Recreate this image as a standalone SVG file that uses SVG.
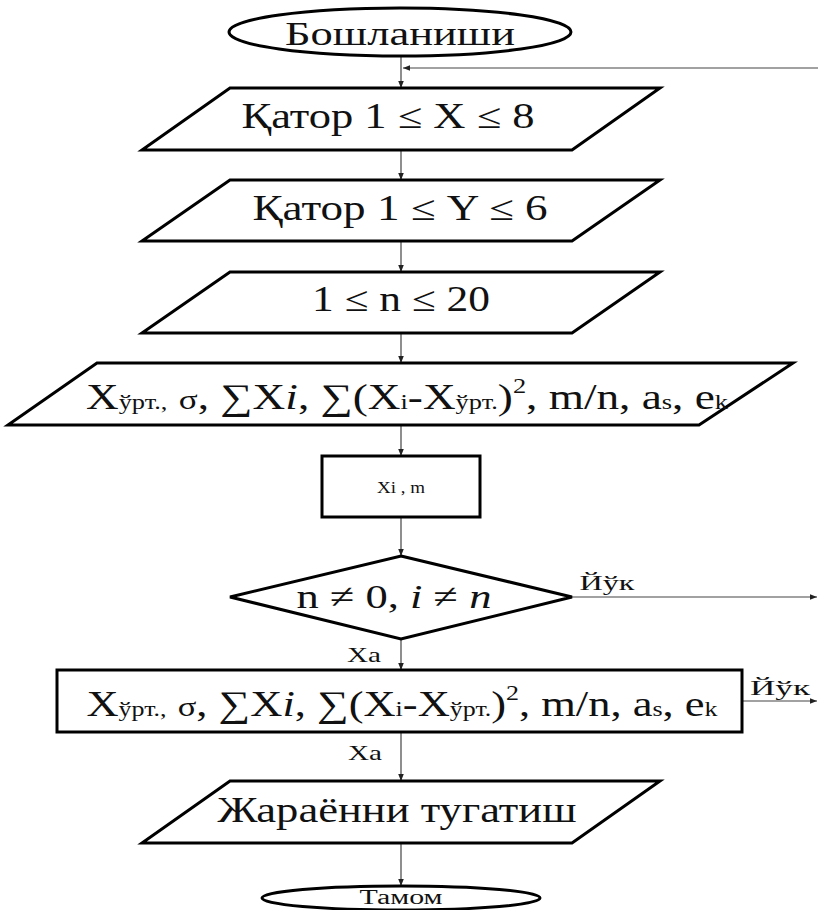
<svg xmlns="http://www.w3.org/2000/svg" width="818" height="910" viewBox="0 0 818 910">
<style>
.sh{fill:#fff;stroke:#000;stroke-width:3;stroke-linejoin:miter}
.cn{fill:none;stroke:#444;stroke-width:1.2}
.t{font-family:"Liberation Serif","DejaVu Serif",serif;fill:#111;text-anchor:middle}
.sm{font-size:21px}
.it{font-style:italic}
</style>
<defs>
<marker id="ah" viewBox="0 0 10 10" refX="10" refY="5" markerWidth="7" markerHeight="9" markerUnits="userSpaceOnUse" orient="auto">
<path d="M0,1 L10,5 L0,9 Z" fill="#222"/>
</marker>
</defs>
<rect width="818" height="910" fill="#fff"/>
<g id="connectors">
<line class="cn" x1="401" y1="56" x2="401" y2="88" marker-end="url(#ah)"/>
<line class="cn" x1="818" y1="68" x2="403" y2="68" marker-end="url(#ah)"/>
<line class="cn" x1="401" y1="150" x2="401" y2="180" marker-end="url(#ah)"/>
<line class="cn" x1="401" y1="241" x2="401" y2="272" marker-end="url(#ah)"/>
<line class="cn" x1="401" y1="333" x2="401" y2="363" marker-end="url(#ah)"/>
<line class="cn" x1="401" y1="425" x2="401" y2="456" marker-end="url(#ah)"/>
<line class="cn" x1="401" y1="517" x2="401" y2="556" marker-end="url(#ah)"/>
<line class="cn" x1="401" y1="639" x2="401" y2="670" marker-end="url(#ah)"/>
<line class="cn" x1="572" y1="597" x2="817" y2="597" marker-end="url(#ah)"/>
<line class="cn" x1="742" y1="701" x2="817" y2="701" marker-end="url(#ah)"/>
<line class="cn" x1="401" y1="732" x2="401" y2="781" marker-end="url(#ah)"/>
<line class="cn" x1="401" y1="843" x2="401" y2="886" marker-end="url(#ah)"/>
<text class="t" x="607" y="590" font-size="22" textLength="55" lengthAdjust="spacingAndGlyphs">Йўк</text>
<text class="t" x="364" y="662" font-size="22" textLength="34" lengthAdjust="spacingAndGlyphs">Xa</text>
<text class="t" x="780" y="695" font-size="22" textLength="60" lengthAdjust="spacingAndGlyphs">Йўк</text>
<text class="t" x="365" y="760" font-size="22" textLength="34" lengthAdjust="spacingAndGlyphs">Xa</text>
</g>
<g id="start">
<ellipse class="sh" cx="400" cy="32" rx="171" ry="24"/>
<text class="t" x="400" y="45" font-size="33" textLength="230" lengthAdjust="spacingAndGlyphs">Бошланиши</text>
</g>
<g id="row-x">
<polygon class="sh" points="230,88 660,88 572,150 142,150"/>
<text class="t" x="388" y="128" font-size="35" textLength="293" lengthAdjust="spacingAndGlyphs">Қатор 1 ≤ X ≤ 8</text>
</g>
<g id="row-y">
<polygon class="sh" points="230,180 660,180 572,241 142,241"/>
<text class="t" x="400" y="220" font-size="35" textLength="295" lengthAdjust="spacingAndGlyphs">Қатор 1 ≤ Y ≤ 6</text>
</g>
<g id="range-n">
<polygon class="sh" points="230,272 660,272 572,333 142,333"/>
<text class="t" x="401" y="311" font-size="35" textLength="178" lengthAdjust="spacingAndGlyphs">1 ≤ n ≤ 20</text>
</g>
<g id="params-io">
<polygon class="sh" points="97,363 793,363 699,425 8,425"/>
<text class="t" x="407" y="409" font-size="36" textLength="642" lengthAdjust="spacingAndGlyphs">X<tspan class="sm">ўрт.,</tspan> <tspan font-size="28">σ</tspan>, ∑X<tspan class="it">i</tspan>, ∑(X<tspan class="sm">i</tspan>-X<tspan class="sm">ўрт.</tspan>)<tspan class="sm" dy="-16">2</tspan><tspan dy="16">, m/n, a</tspan><tspan class="sm">s</tspan>, e<tspan class="sm">k</tspan></text>
</g>
<g id="input-xi">
<rect class="sh" x="322" y="456" width="158" height="61"/>
<text class="t" x="401" y="493" font-size="17" textLength="48" lengthAdjust="spacingAndGlyphs">Xi , m</text>
</g>
<g id="decision">
<polygon class="sh" points="401,556 572,597 401,639 230,597"/>
<text class="t" x="394" y="608" font-size="34" textLength="195" lengthAdjust="spacingAndGlyphs">n ≠ 0, <tspan class="it">i</tspan> ≠ <tspan class="it">n</tspan></text>
</g>
<g id="compute">
<rect class="sh" x="57" y="670" width="685" height="62"/>
<text class="t" x="402" y="716" font-size="36" textLength="631" lengthAdjust="spacingAndGlyphs">X<tspan class="sm">ўрт.,</tspan> <tspan font-size="28">σ</tspan>, ∑X<tspan class="it">i</tspan>, ∑(X<tspan class="sm">i</tspan>-X<tspan class="sm">ўрт.</tspan>)<tspan class="sm" dy="-16">2</tspan><tspan dy="16">, m/n, a</tspan><tspan class="sm">s</tspan>, e<tspan class="sm">k</tspan></text>
</g>
<g id="finish-io">
<polygon class="sh" points="230,781 660,781 572,843 142,843"/>
<text class="t" x="397" y="822" font-size="35" textLength="359" lengthAdjust="spacingAndGlyphs">Жараённи тугатиш</text>
</g>
<g id="end">
<ellipse class="sh" cx="401" cy="898" rx="139" ry="12"/>
<text class="t" x="401" y="904" font-size="20" textLength="83" lengthAdjust="spacingAndGlyphs">Тамом</text>
</g>
</svg>
